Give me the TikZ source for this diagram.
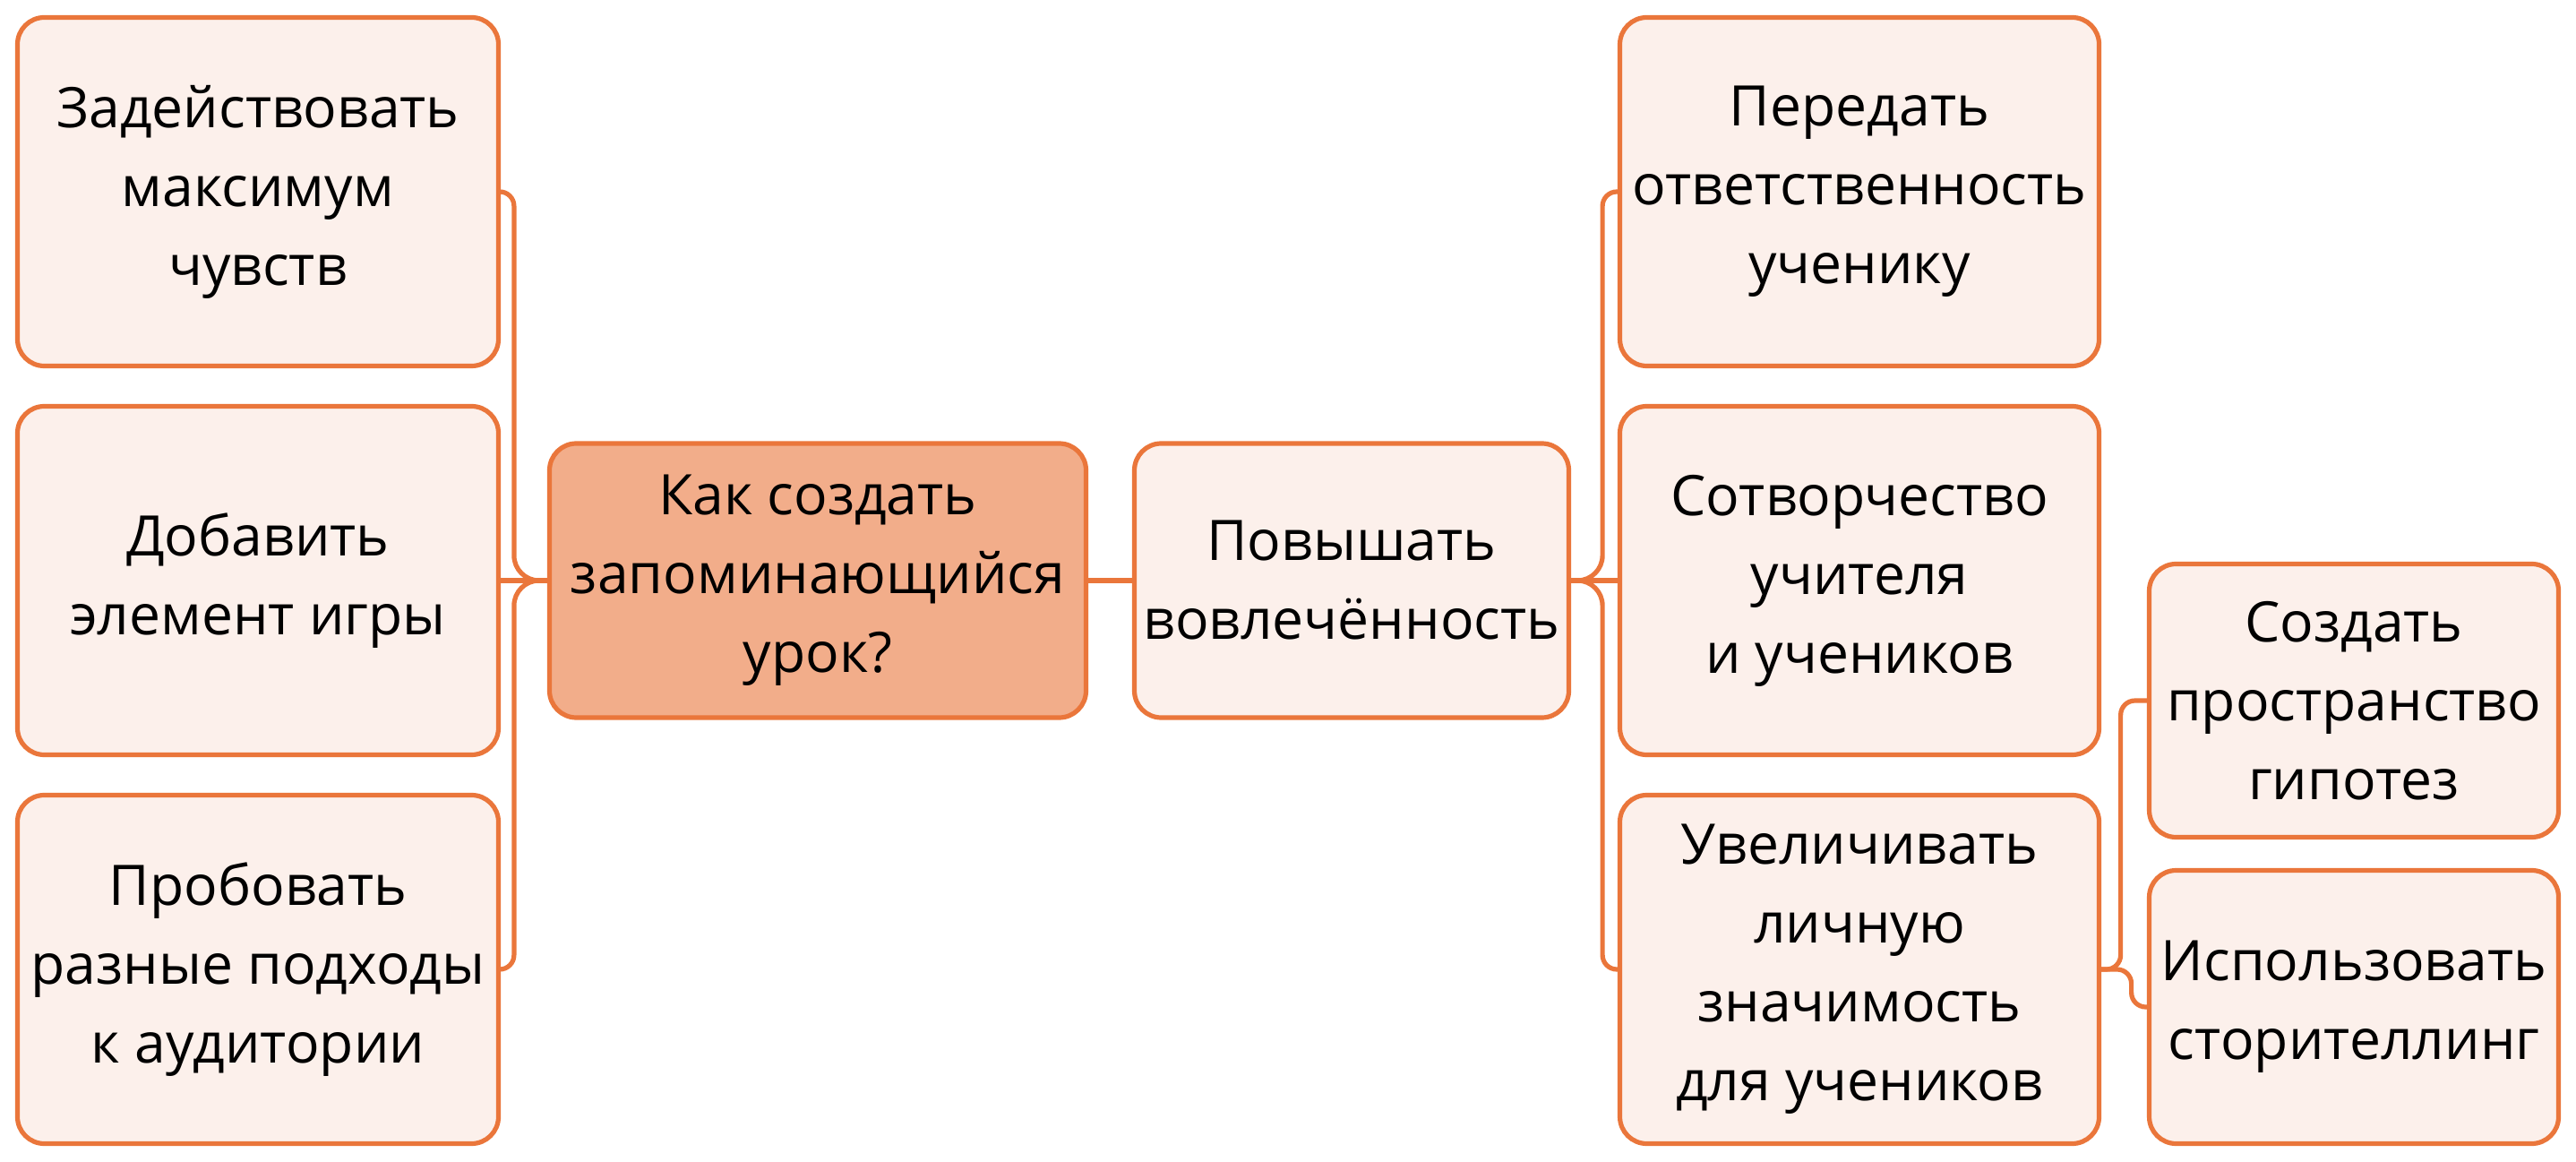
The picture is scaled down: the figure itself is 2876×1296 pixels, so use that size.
\documentclass[tikz,border=0pt]{standalone}
\usepackage{fontspec}
\setmainfont{Open Sans}
\definecolor{mmline}{RGB}{234,118,59}
\definecolor{mmfill}{RGB}{252,240,235}
\definecolor{mmroot}{RGB}{242,173,138}
\tikzset{
	box/.style={draw=mmline, fill=mmfill, line width=1.3pt, rounded corners=7.5pt, align=center, inner sep=0pt, font=\fontsize{15.6}{22}\selectfont},
	side/.style={box, minimum width=134.25pt, minimum height=97.25pt},
	mid/.style={box, minimum height=76.5pt},
	small/.style={box, minimum width=114.25pt, minimum height=76.25pt},
	link/.style={draw=mmline, line width=1.3pt, rounded corners=4pt},
}
\begin{document}
\begin{tikzpicture}[x=0.25pt, y=0.25pt]
	\useasboundingbox (0,0) rectangle (2876,1296);
	%% Mitte
	\node[mid, fill=mmroot, minimum width=149.75pt] (frage) at (913,648) {Как создать\\запоминающийся\\урок?};
	\node[mid, minimum width=121.25pt] (vovl) at (1509,648) {Повышать\\вовлечённость};

	%% Links
	\node[side] (chuv) at (288,1082) {Задействовать\\максимум\\чувств};
	\node[side] (igra) at (288,648) {Добавить\\элемент игры};
	\node[side] (podh) at (288,214) {Пробовать\\разные подходы\\к аудитории};

	%% Rechts
	\node[side, minimum width=133.75pt] (otv) at (2076,1082) {Передать\\ответственность\\ученику};
	\node[side, minimum width=133.75pt] (tvor) at (2076,648) {Сотворчество\\учителя\\и учеников};
	\node[side, minimum width=133.75pt] (znach) at (2076,214) {Увеличивать\\личную\\значимость\\для учеников};
	\node[small] (gip) at (2628,514) {Создать\\пространство\\гипотез};
	\node[small] (stor) at (2628,172) {Использовать\\сторителлинг};
	%%%%%%%%%%%%%%%%

	%% Verbindungen
	\draw[link] (frage.west) [rounded corners=7pt] -- ++(-37,0) [rounded corners=4pt] |- (chuv.east);
	\draw[link] (frage.west) -- (igra.east);
	\draw[link] (frage.west) [rounded corners=7pt] -- ++(-37,0) [rounded corners=4pt] |- (podh.east);
	\draw[link] (frage.east) -- (vovl.west);
	\draw[link] (vovl.east) [rounded corners=7pt] -- ++(35,0) [rounded corners=4pt] |- (otv.west);
	\draw[link] (vovl.east) -- (tvor.west);
	\draw[link] (vovl.east) [rounded corners=7pt] -- ++(35,0) [rounded corners=4pt] |- (znach.west);
	\draw[link] (znach.east) -- ++(21.5,0) |- (gip.west);
	\draw[link] (znach.east) -- ++(33.5,0) |- (stor.west);
\end{tikzpicture}
\end{document}
